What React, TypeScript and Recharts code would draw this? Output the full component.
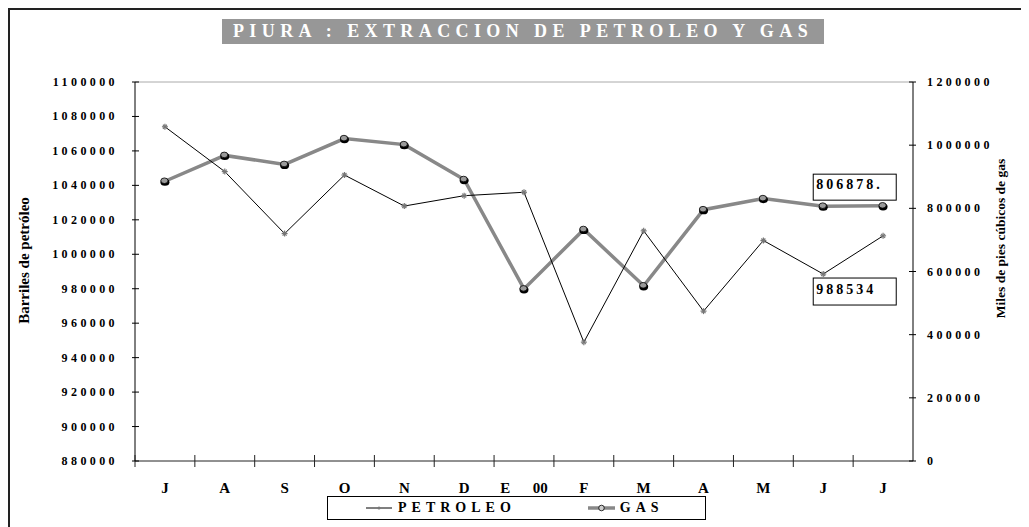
import { LineChart, Line, XAxis, YAxis, Legend, ReferenceLine } from "recharts";

const meses = ["J", "A", "S", "O", "N", "D", "E 00", "F", "M", "A", "M", "J", "J"];
const petroleo = [1074000, 1048000, 1012000, 1046000, 1028000, 1034000, 1036000, 949000, 1013600, 967000, 1008000, 988534, 1010700];
const gas = [885800, 967600, 939000, 1020800, 1001700, 891200, 545000, 733000, 554800, 795800, 830800, 806878, 808000];
const ticksPetroleo = [880000, 900000, 920000, 940000, 960000, 980000, 1000000, 1020000, 1040000, 1060000, 1080000, 1100000];
const ticksGas = [0, 200000, 400000, 600000, 800000, 1000000, 1200000];
const seriesOrder = ["petroleo", "gas"];
const labelIndex = 11;

// unique key per point so duplicated month letters stay separate on the band scale
const data = meses.map((mes, i) => ({ idx: i, mes, petroleo: petroleo[i], gas: gas[i] }));

const FONT = "'Liberation Serif', 'Times New Roman', serif";

const LeftTick = (p: any) => (
  <g>
    <line x1={p.x - 3} x2={p.x + 4} y1={p.y} y2={p.y} stroke="#000" />
    <text x={p.x - 17} y={p.y + 4} textAnchor="end" fontSize={12} fontWeight="bold" letterSpacing={3.4} fontFamily={FONT} fill="#000">
      {p.payload.value}
    </text>
  </g>
);

const RightTick = (p: any) => (
  <g>
    <line x1={p.x - 4} x2={p.x + 3} y1={p.y} y2={p.y} stroke="#000" />
    <text x={p.x + 14} y={p.y + 4} textAnchor="start" fontSize={12} fontWeight="bold" letterSpacing={3.4} fontFamily={FONT} fill="#000">
      {p.payload.value}
    </text>
  </g>
);

const BottomTick = (p: any) => {
  const off = p.payload.offset ?? 0;
  const mes = meses[p.payload.value];
  return (
    <g>
      <line x1={p.x - off} x2={p.x - off} y1={p.y - 6} y2={p.y + 6} stroke="#222" />
      <text x={p.x} y={p.y + 32} textAnchor="middle" fontSize={15} fontWeight="bold" fontFamily={FONT} fill="#000" style={{ whiteSpace: "pre" }}>
        {mes === "E 00" ? "E      00" : mes}
      </text>
    </g>
  );
};

const PetDot = (p: any) => (
  <g stroke="#777" strokeWidth={1.2}>
    <line x1={p.cx - 3} x2={p.cx + 3} y1={p.cy} y2={p.cy} />
    <line x1={p.cx} x2={p.cx} y1={p.cy - 3} y2={p.cy + 3} />
    <line x1={p.cx - 2} x2={p.cx + 2} y1={p.cy - 2} y2={p.cy + 2} />
    <line x1={p.cx - 2} x2={p.cx + 2} y1={p.cy + 2} y2={p.cy - 2} />
  </g>
);

const GasDot = (p: any) => (
  <g>
    <ellipse cx={p.cx} cy={p.cy + 1} rx={4.5} ry={3.6} fill="#000" />
    <ellipse cx={p.cx - 0.5} cy={p.cy - 0.5} rx={3.6} ry={2.8} fill="#9a9a9a" stroke="#000" strokeWidth={0.8} />
  </g>
);

const GasLabel = (p: any) =>
  p.index === labelIndex ? (
    <g>
      <rect x={p.x - 10} y={p.y - 32} width={83} height={26} fill="#fff" stroke="#000" />
      <text x={p.x - 7} y={p.y - 17} fontSize={14} fontWeight="bold" letterSpacing={3} fontFamily={FONT} fill="#000">
        {`${p.value}.`}
      </text>
    </g>
  ) : null;

const PetLabel = (p: any) =>
  p.index === labelIndex ? (
    <g>
      <rect x={p.x - 10} y={p.y + 4} width={83} height={27} fill="#fff" stroke="#000" />
      <text x={p.x - 7} y={p.y + 20} fontSize={14} fontWeight="bold" letterSpacing={3} fontFamily={FONT} fill="#000">
        {p.value}
      </text>
    </g>
  ) : null;

const LeftTitle = (p: any) => {
  const vb = p.viewBox;
  const cx = vb.x + 16;
  const cy = vb.y + vb.height / 2 - 11;
  return (
    <text x={cx} y={cy} transform={`rotate(-90 ${cx} ${cy})`} textAnchor="middle" dominantBaseline="central" fontSize={15} fontWeight="bold" fontFamily={FONT} fill="#000">
      Barriles de petróleo
    </text>
  );
};

const RightTitle = (p: any) => {
  const vb = p.viewBox;
  const cx = vb.x + 87;
  const cy = vb.y + vb.height / 2 - 33;
  return (
    <text x={cx} y={cy} transform={`rotate(-90 ${cx} ${cy})`} textAnchor="middle" dominantBaseline="central" fontSize={13.5} fontWeight="bold" fontFamily={FONT} fill="#000">
      Miles de pies cúbicos de gas
    </text>
  );
};

const LegendBox = (props: any) => {
  const items = [...(props.payload || [])].sort(
    (a: any, b: any) => seriesOrder.indexOf(a.dataKey) - seriesOrder.indexOf(b.dataKey)
  );
  return (
    <div style={{ width: 379, height: 24, boxSizing: "border-box", border: "1px solid #000", background: "#fff", display: "flex", alignItems: "center", fontFamily: FONT }}>
      {items.map((it: any) => {
        const isGas = it.dataKey === "gas";
        return (
          <div key={it.value} style={{ display: "flex", alignItems: "center", marginLeft: isGas ? 72 : 38 }}>
            <svg width={27} height={12}>
              {isGas ? (
                <>
                  <line x1={0} x2={27} y1={6} y2={6} stroke="#888" strokeWidth={3.5} />
                  <circle cx={13.5} cy={6} r={2.8} fill="#ccc" stroke="#000" strokeWidth={0.8} />
                </>
              ) : (
                <>
                  <line x1={0} x2={26} y1={6} y2={6} stroke="#000" strokeWidth={1} />
                  <circle cx={13} cy={6} r={1.5} fill="#777" />
                </>
              )}
            </svg>
            <span style={{ fontSize: 14, fontWeight: "bold", letterSpacing: 5, marginLeft: 5 }}>{it.value}</span>
          </div>
        );
      })}
    </div>
  );
}

export default function App() {
  return (
    <div style={{ position: "relative", width: 1013, height: 519 }}>
      <div style={{ position: "absolute", left: 0, top: 0, right: 0, bottom: 0, borderTop: "2px solid #222", borderLeft: "2px solid #222", pointerEvents: "none" }} />
      <div
        style={{
          position: "absolute",
          left: 214,
          top: 11,
          width: 602,
          height: 25,
          background: "#979797",
          color: "#fff",
          fontFamily: FONT,
          fontSize: 18,
          fontWeight: "bold",
          letterSpacing: 5.4,
          display: "flex",
          alignItems: "center",
          justifyContent: "center",
          zIndex: 2,
        }}
      >
        PIURA : EXTRACCION DE PETROLEO Y GAS
      </div>
      <LineChart width={1013} height={519} data={data} margin={{ top: 74, right: 0, bottom: 9, left: 0 }} style={{ fontFamily: FONT }}>
        <XAxis
          dataKey="idx"
          type="category"
          scale="band"
          height={57}
          tickSize={0}
          tickMargin={0}
          interval={0}
          stroke="#222"
          tick={<BottomTick />}
          tickLine={false}
        />
        <YAxis
          yAxisId="left"
          width={127}
          domain={[880000, 1100000]}
          ticks={ticksPetroleo}
          interval={0}
          tickSize={0}
          tickMargin={0}
          stroke="#000"
          tickLine={false}
          tick={<LeftTick />}
          label={<LeftTitle />}
        />
        <YAxis
          yAxisId="right"
          orientation="right"
          width={108}
          domain={[0, 1200000]}
          ticks={ticksGas}
          interval={0}
          tickSize={0}
          tickMargin={0}
          stroke="#000"
          tickLine={false}
          tick={<RightTick />}
          label={<RightTitle />}
        />
        <ReferenceLine yAxisId="left" y={1100000} stroke="#aaa" />
        <Legend
          verticalAlign="middle"
          align="center"
          layout="horizontal"
          wrapperStyle={{ left: 319, top: 488, width: 379, height: 24 }}
          content={<LegendBox />}
        />
        <Line
          yAxisId="right"
          dataKey="gas"
          name="GAS"
          stroke="#888"
          strokeWidth={3.5}
          dot={(p: any) => <GasDot key={`g${p.index}`} {...p} />}
          label={<GasLabel />}
          isAnimationActive={false}
        />
        <Line
          yAxisId="left"
          dataKey="petroleo"
          name="PETROLEO"
          stroke="#000"
          strokeWidth={1}
          dot={(p: any) => <PetDot key={`p${p.index}`} {...p} />}
          label={<PetLabel />}
          isAnimationActive={false}
        />
      </LineChart>
    </div>
  );
}
